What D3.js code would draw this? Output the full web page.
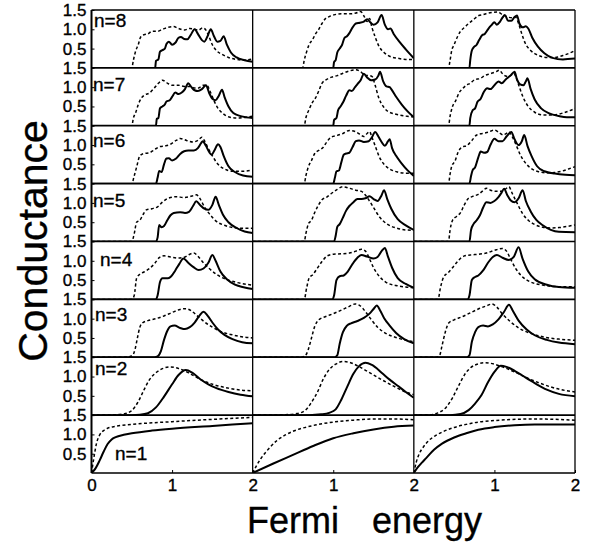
<!DOCTYPE html>
<html>
<head>
<meta charset="utf-8">
<script src="https://cdn.jsdelivr.net/npm/d3@7"></script>
<style>
  body { margin: 0; background: #fff; }
  svg { display: block; font-family: "Liberation Sans", Arial, sans-serif; }
</style>
</head>
<body>
<svg id="chart" width="593" height="546"></svg>
<script>
// Conductance vs Fermi energy, 8 rows (n=8 top .. n=1 bottom) x 3 columns.
// Each row array holds one [x, G] list per column.
const rowLabels = ['n=8', 'n=7', 'n=6', 'n=5', 'n=4', 'n=3', 'n=2', 'n=1'];
const yTicks = [0.5, 1.0, 1.5];
const xTicksFirst = [0, 1, 2];
const xTicksOther = [1, 2];

const n8Solid = [
  [[0,0],[0.79,0],[0.8,0.18],[0.83,0.22],[0.85,0.42],[0.88,0.46],[0.91,0.5],[0.93,0.62],[0.96,0.68],[1.0,0.6],[1.04,0.65],[1.08,0.78],[1.11,0.8],[1.15,0.75],[1.19,0.74],[1.23,0.85],[1.28,1.0],[1.32,0.88],[1.37,0.72],[1.4,0.68],[1.44,0.82],[1.48,1.0],[1.52,0.82],[1.56,0.68],[1.6,0.7],[1.64,0.82],[1.68,0.6],[1.73,0.4],[1.8,0.27],[1.9,0.2],[2,0.16]],
  [[0,0],[1.0,0],[1.01,0.15],[1.03,0.2],[1.05,0.4],[1.08,0.5],[1.11,0.6],[1.14,0.78],[1.17,0.82],[1.2,0.9],[1.24,1.05],[1.28,1.15],[1.33,1.17],[1.38,1.2],[1.42,1.26],[1.46,1.18],[1.5,1.12],[1.55,1.18],[1.6,1.37],[1.64,1.12],[1.68,1.0],[1.71,1.02],[1.75,0.88],[1.82,0.68],[1.9,0.48],[2,0.25]],
  [[0,0],[0.69,0],[0.7,0.2],[0.72,0.45],[0.75,0.55],[0.78,0.6],[0.81,0.72],[0.85,0.85],[0.88,0.88],[0.92,1.0],[0.96,1.1],[1.0,1.18],[1.03,1.12],[1.07,1.2],[1.1,1.3],[1.13,1.37],[1.17,1.22],[1.21,1.22],[1.25,1.32],[1.28,1.36],[1.31,1.15],[1.35,1.05],[1.39,1.08],[1.42,1.02],[1.47,0.78],[1.54,0.55],[1.62,0.38],[1.72,0.26],[1.85,0.22],[2,0.24]]
];
const n8Dashed = [
  [[0,0],[0.5,0],[0.52,0.2],[0.55,0.45],[0.58,0.6],[0.61,0.8],[0.65,0.86],[0.7,0.88],[0.75,0.95],[0.82,0.95],[0.88,1.0],[0.95,1.05],[1.02,1.07],[1.08,1.02],[1.15,0.98],[1.22,1.02],[1.28,1.0],[1.33,0.98],[1.38,1.04],[1.42,0.98],[1.46,0.8],[1.5,0.6],[1.55,0.45],[1.62,0.35],[1.7,0.27],[1.8,0.22],[1.9,0.2],[2,0.23]],
  [[0,0],[0.62,0],[0.64,0.2],[0.67,0.42],[0.7,0.6],[0.74,0.72],[0.78,0.88],[0.82,1.0],[0.86,1.15],[0.9,1.27],[0.95,1.33],[1.02,1.38],[1.1,1.4],[1.2,1.4],[1.28,1.42],[1.34,1.46],[1.38,1.35],[1.42,1.2],[1.45,1.28],[1.48,1.05],[1.52,0.8],[1.57,0.55],[1.63,0.4],[1.7,0.3],[1.8,0.25],[1.9,0.22],[2,0.22]],
  [[0,0],[0.43,0],[0.45,0.2],[0.47,0.45],[0.5,0.6],[0.54,0.8],[0.58,0.95],[0.63,1.05],[0.68,1.15],[0.74,1.25],[0.8,1.35],[0.86,1.38],[0.92,1.42],[0.98,1.44],[1.04,1.45],[1.1,1.38],[1.16,1.32],[1.22,1.3],[1.26,1.32],[1.3,1.15],[1.34,0.88],[1.38,0.65],[1.45,0.45],[1.55,0.32],[1.65,0.27],[1.75,0.27],[1.85,0.32],[1.93,0.38],[2,0.45]]
];

const n7Solid = [
  [[0,0],[0.8,0],[0.81,0.18],[0.83,0.2],[0.85,0.45],[0.88,0.5],[0.91,0.55],[0.93,0.63],[0.97,0.66],[1.0,0.75],[1.04,0.86],[1.08,0.82],[1.12,0.86],[1.16,0.95],[1.2,1.1],[1.24,1.0],[1.28,0.92],[1.32,0.9],[1.37,0.95],[1.42,1.05],[1.46,0.85],[1.5,0.7],[1.54,0.66],[1.58,0.78],[1.62,0.93],[1.65,0.75],[1.7,0.5],[1.76,0.33],[1.85,0.25],[2,0.2]],
  [[0,0],[1.0,0],[1.01,0.15],[1.04,0.2],[1.06,0.4],[1.09,0.5],[1.12,0.6],[1.16,0.78],[1.2,0.92],[1.23,0.9],[1.27,1.0],[1.3,1.08],[1.34,1.18],[1.38,1.35],[1.42,1.25],[1.47,1.18],[1.52,1.2],[1.56,1.3],[1.58,1.4],[1.62,1.15],[1.66,1.02],[1.7,1.0],[1.72,0.95],[1.78,0.75],[1.85,0.55],[1.92,0.38],[2,0.22]],
  [[0,0],[0.69,0],[0.7,0.2],[0.73,0.4],[0.76,0.45],[0.79,0.62],[0.83,0.7],[0.87,0.88],[0.91,0.97],[0.95,0.95],[1.0,1.05],[1.05,1.15],[1.09,1.1],[1.14,1.2],[1.2,1.3],[1.25,1.4],[1.28,1.2],[1.32,1.07],[1.36,1.05],[1.39,1.15],[1.41,1.23],[1.45,0.95],[1.5,0.68],[1.58,0.45],[1.68,0.32],[1.8,0.25],[1.9,0.22],[2,0.22]]
];
const n7Dashed = [
  [[0,0],[0.5,0],[0.52,0.2],[0.55,0.35],[0.58,0.55],[0.62,0.72],[0.66,0.8],[0.72,0.85],[0.78,0.98],[0.83,1.1],[0.88,1.18],[0.93,1.12],[1.0,1.05],[1.08,1.05],[1.15,1.02],[1.22,1.02],[1.28,0.98],[1.33,0.98],[1.38,1.05],[1.43,1.05],[1.47,0.9],[1.52,0.65],[1.57,0.45],[1.63,0.32],[1.72,0.22],[1.82,0.2],[1.92,0.22],[2,0.25]],
  [[0,0],[0.64,0],[0.66,0.2],[0.7,0.42],[0.74,0.6],[0.78,0.72],[0.82,0.9],[0.86,1.1],[0.92,1.2],[0.98,1.26],[1.05,1.3],[1.12,1.36],[1.2,1.42],[1.28,1.45],[1.34,1.4],[1.4,1.3],[1.44,1.3],[1.48,1.28],[1.52,1.05],[1.56,0.75],[1.62,0.5],[1.68,0.37],[1.78,0.3],[1.9,0.25],[2,0.23]],
  [[0,0],[0.43,0],[0.45,0.25],[0.48,0.5],[0.52,0.65],[0.56,0.85],[0.6,0.95],[0.65,1.05],[0.7,1.1],[0.76,1.2],[0.82,1.22],[0.88,1.3],[0.95,1.35],[1.02,1.4],[1.06,1.44],[1.1,1.35],[1.15,1.28],[1.2,1.3],[1.24,1.36],[1.27,1.25],[1.31,1.0],[1.36,0.72],[1.42,0.5],[1.5,0.35],[1.6,0.28],[1.72,0.28],[1.85,0.33],[2,0.45]]
];

const n6Solid = [
  [[0,0],[0.8,0],[0.82,0.15],[0.84,0.33],[0.87,0.3],[0.9,0.5],[0.93,0.65],[0.96,0.66],[1.0,0.6],[1.05,0.65],[1.1,0.77],[1.15,0.84],[1.2,0.86],[1.27,0.86],[1.32,0.92],[1.36,1.05],[1.38,1.1],[1.42,0.98],[1.46,0.82],[1.49,0.75],[1.53,0.88],[1.57,1.02],[1.6,0.95],[1.64,0.72],[1.7,0.45],[1.78,0.3],[1.88,0.21],[2,0.18]],
  [[0,0],[1.0,0],[1.02,0.15],[1.04,0.32],[1.07,0.34],[1.1,0.55],[1.13,0.75],[1.16,0.78],[1.2,0.8],[1.24,0.95],[1.28,1.1],[1.32,1.12],[1.38,1.08],[1.44,1.1],[1.48,1.2],[1.52,1.34],[1.56,1.22],[1.6,1.08],[1.64,0.98],[1.68,1.1],[1.7,1.15],[1.73,0.92],[1.78,0.72],[1.85,0.52],[1.92,0.35],[2,0.2]],
  [[0,0],[0.69,0],[0.71,0.2],[0.73,0.35],[0.76,0.42],[0.8,0.68],[0.83,0.83],[0.87,0.8],[0.91,0.82],[0.95,1.0],[1.0,1.16],[1.05,1.1],[1.1,1.1],[1.15,1.22],[1.21,1.34],[1.25,1.15],[1.3,1.0],[1.34,1.1],[1.37,1.26],[1.41,0.98],[1.46,0.72],[1.53,0.45],[1.62,0.32],[1.75,0.26],[1.88,0.23],[2,0.22]]
];
const n6Dashed = [
  [[0,0],[0.5,0],[0.53,0.2],[0.56,0.43],[0.6,0.72],[0.65,0.78],[0.72,0.8],[0.78,0.88],[0.85,0.96],[0.92,0.98],[0.98,1.02],[1.05,1.12],[1.1,1.17],[1.18,1.12],[1.26,1.08],[1.32,1.12],[1.37,1.2],[1.4,1.12],[1.44,0.95],[1.5,0.72],[1.57,0.5],[1.65,0.38],[1.75,0.32],[1.87,0.32],[2,0.35]],
  [[0,0],[0.64,0],[0.66,0.2],[0.69,0.43],[0.73,0.6],[0.77,0.78],[0.82,0.86],[0.87,0.93],[0.92,1.08],[0.97,1.2],[1.05,1.25],[1.12,1.3],[1.2,1.38],[1.27,1.35],[1.33,1.28],[1.38,1.22],[1.42,1.3],[1.45,1.35],[1.48,1.2],[1.52,0.98],[1.57,0.7],[1.63,0.5],[1.7,0.38],[1.8,0.3],[1.9,0.27],[2,0.27]],
  [[0,0],[0.43,0],[0.45,0.25],[0.47,0.45],[0.51,0.58],[0.55,0.82],[0.6,0.95],[0.66,0.99],[0.72,1.12],[0.78,1.26],[0.85,1.3],[0.92,1.33],[1.0,1.39],[1.06,1.32],[1.11,1.26],[1.15,1.3],[1.18,1.34],[1.22,1.22],[1.27,1.0],[1.32,0.75],[1.38,0.55],[1.45,0.4],[1.55,0.31],[1.65,0.28],[1.75,0.29],[1.85,0.33],[1.92,0.38],[2,0.44]]
];

const n5Solid = [
  [[0,0],[0.8,0],[0.82,0.1],[0.84,0.43],[0.87,0.37],[0.9,0.4],[0.94,0.55],[0.98,0.68],[1.02,0.74],[1.1,0.76],[1.16,0.74],[1.21,0.77],[1.26,0.92],[1.3,1.04],[1.35,0.94],[1.4,0.85],[1.45,0.82],[1.5,0.95],[1.54,1.16],[1.58,0.95],[1.63,0.7],[1.7,0.5],[1.8,0.35],[1.9,0.26],[2,0.22]],
  [[0,0],[1.01,0],[1.03,0.15],[1.05,0.38],[1.08,0.45],[1.12,0.62],[1.16,0.8],[1.2,0.92],[1.25,1.02],[1.3,1.1],[1.35,1.1],[1.4,1.12],[1.45,1.17],[1.5,1.1],[1.55,1.05],[1.6,1.2],[1.63,1.33],[1.67,1.1],[1.72,0.85],[1.8,0.58],[1.9,0.42],[2,0.3]],
  [[0,0],[0.69,0],[0.71,0.3],[0.74,0.45],[0.78,0.55],[0.82,0.68],[0.86,0.88],[0.9,1.02],[0.95,1.0],[1.0,1.05],[1.05,1.15],[1.09,1.27],[1.12,1.37],[1.16,1.2],[1.2,1.07],[1.25,1.02],[1.3,1.12],[1.35,1.33],[1.39,1.05],[1.45,0.78],[1.52,0.56],[1.6,0.42],[1.7,0.3],[1.8,0.25],[2,0.24]]
];
const n5Dashed = [
  [[0,0],[0.5,0],[0.53,0.2],[0.56,0.5],[0.6,0.55],[0.64,0.7],[0.68,0.82],[0.75,0.85],[0.82,0.9],[0.88,1.02],[0.95,1.12],[1.05,1.16],[1.15,1.14],[1.25,1.18],[1.3,1.21],[1.35,1.1],[1.4,0.9],[1.47,0.7],[1.55,0.52],[1.65,0.42],[1.8,0.35],[2,0.34]],
  [[0,0],[0.64,0],[0.66,0.2],[0.69,0.45],[0.73,0.55],[0.77,0.75],[0.81,0.92],[0.86,1.08],[0.92,1.15],[0.98,1.25],[1.05,1.35],[1.12,1.42],[1.2,1.38],[1.28,1.33],[1.35,1.3],[1.4,1.2],[1.45,1.05],[1.5,0.88],[1.58,0.62],[1.67,0.45],[1.78,0.35],[1.9,0.3],[2,0.29]],
  [[0,0],[0.43,0],[0.45,0.3],[0.48,0.55],[0.53,0.65],[0.58,0.75],[0.62,0.92],[0.67,1.1],[0.73,1.17],[0.8,1.22],[0.86,1.32],[0.9,1.38],[0.95,1.33],[1.02,1.3],[1.1,1.3],[1.15,1.38],[1.18,1.42],[1.22,1.25],[1.28,1.0],[1.35,0.72],[1.42,0.55],[1.5,0.44],[1.6,0.37],[1.7,0.35],[1.8,0.36],[1.9,0.39],[2,0.43]]
];

const n4Solid = [
  [[0,0],[0.8,0],[0.82,0.1],[0.85,0.45],[0.88,0.55],[0.95,0.55],[0.99,0.6],[1.04,0.75],[1.09,0.92],[1.14,1.06],[1.2,0.95],[1.27,0.83],[1.33,0.76],[1.39,0.8],[1.45,0.95],[1.5,1.15],[1.54,1.0],[1.6,0.72],[1.68,0.52],[1.78,0.38],[1.9,0.31],[2,0.27]],
  [[0,0],[0.99,0],[1.01,0.1],[1.04,0.5],[1.08,0.6],[1.13,0.62],[1.18,0.72],[1.24,0.92],[1.3,1.08],[1.35,1.15],[1.42,1.11],[1.5,1.06],[1.55,1.1],[1.6,1.25],[1.64,1.33],[1.68,1.1],[1.73,0.82],[1.8,0.55],[1.9,0.4],[2,0.3]],
  [[0,0],[0.67,0],[0.69,0.1],[0.72,0.5],[0.76,0.58],[0.8,0.62],[0.86,0.75],[0.92,0.95],[0.98,1.1],[1.03,1.15],[1.1,1.08],[1.18,1.02],[1.24,1.1],[1.3,1.35],[1.35,1.05],[1.42,0.72],[1.5,0.52],[1.65,0.38],[1.8,0.32],[2,0.3]]
];
const n4Dashed = [
  [[0,0],[0.5,0],[0.53,0.1],[0.56,0.55],[0.6,0.65],[0.66,0.72],[0.72,0.8],[0.78,0.92],[0.84,1.08],[0.9,1.13],[0.98,1.1],[1.08,1.07],[1.16,1.1],[1.22,1.17],[1.27,1.2],[1.32,1.12],[1.38,0.97],[1.45,0.82],[1.55,0.65],[1.67,0.52],[1.8,0.44],[2,0.37]],
  [[0,0],[0.64,0],[0.67,0.3],[0.7,0.55],[0.75,0.65],[0.8,0.8],[0.86,0.98],[0.92,1.12],[1.0,1.17],[1.1,1.18],[1.2,1.2],[1.28,1.25],[1.35,1.3],[1.4,1.25],[1.45,1.05],[1.5,0.82],[1.57,0.6],[1.65,0.45],[1.78,0.36],[1.9,0.32],[2,0.3]],
  [[0,0],[0.3,0],[0.33,0.3],[0.37,0.58],[0.42,0.68],[0.48,0.82],[0.55,1.0],[0.62,1.12],[0.7,1.15],[0.8,1.17],[0.9,1.2],[1.0,1.27],[1.1,1.32],[1.15,1.25],[1.2,1.05],[1.27,0.78],[1.35,0.58],[1.45,0.45],[1.6,0.37],[1.8,0.33],[2,0.33]]
];

const n3Solid = [
  [[0,0],[0.78,0],[0.82,0.02],[0.86,0.15],[0.9,0.45],[0.94,0.68],[0.98,0.8],[1.03,0.82],[1.1,0.76],[1.16,0.73],[1.22,0.78],[1.28,0.9],[1.34,1.08],[1.39,1.18],[1.44,1.08],[1.5,0.9],[1.57,0.72],[1.65,0.58],[1.75,0.47],[1.87,0.39],[2,0.36]],
  [[0,0],[1.02,0],[1.05,0.05],[1.08,0.35],[1.12,0.65],[1.17,0.82],[1.22,0.88],[1.3,0.94],[1.38,1.02],[1.45,1.13],[1.5,1.25],[1.54,1.34],[1.58,1.22],[1.63,1.02],[1.7,0.82],[1.78,0.63],[1.88,0.47],[2,0.36]],
  [[0,0],[0.66,0],[0.69,0.05],[0.72,0.4],[0.76,0.65],[0.8,0.78],[0.86,0.82],[0.92,0.8],[0.98,0.85],[1.05,0.98],[1.12,1.18],[1.18,1.36],[1.23,1.2],[1.3,0.95],[1.4,0.72],[1.5,0.57],[1.65,0.45],[1.8,0.38],[2,0.34]]
];
const n3Dashed = [
  [[0,0],[0.4,0],[0.5,0.03],[0.54,0.2],[0.57,0.5],[0.6,0.78],[0.64,0.9],[0.7,0.95],[0.8,1.0],[0.9,1.07],[1.0,1.16],[1.1,1.24],[1.17,1.26],[1.24,1.2],[1.32,1.06],[1.4,0.92],[1.5,0.78],[1.6,0.67],[1.75,0.58],[1.9,0.52],[2,0.5]],
  [[0,0],[0.6,0],[0.65,0.03],[0.69,0.2],[0.73,0.5],[0.77,0.8],[0.82,0.97],[0.9,1.05],[1.0,1.13],[1.1,1.22],[1.2,1.32],[1.27,1.38],[1.33,1.34],[1.4,1.18],[1.47,0.98],[1.55,0.78],[1.65,0.62],[1.8,0.5],[2,0.4]],
  [[0,0],[0.28,0],[0.32,0.05],[0.35,0.3],[0.39,0.65],[0.43,0.88],[0.5,0.97],[0.6,1.05],[0.7,1.15],[0.8,1.25],[0.9,1.33],[0.97,1.38],[1.03,1.3],[1.1,1.12],[1.2,0.92],[1.3,0.76],[1.45,0.62],[1.6,0.53],[1.8,0.47],[2,0.44]]
];

const n2Solid = [
  [[0,0],[0.5,0],[0.6,0.01],[0.7,0.05],[0.8,0.2],[0.9,0.48],[1,0.8],[1.08,1.04],[1.17,1.17],[1.25,1.1],[1.35,0.93],[1.45,0.8],[1.55,0.7],[1.7,0.6],[1.85,0.53],[2,0.49]],
  [[0,0],[0.7,0],[0.85,0.02],[0.95,0.06],[1.03,0.15],[1.1,0.4],[1.17,0.72],[1.25,1.07],[1.32,1.27],[1.4,1.36],[1.48,1.3],[1.6,1.1],[1.7,0.92],[1.8,0.76],[1.9,0.6],[2,0.45]],
  [[0,0],[0.45,0],[0.58,0.03],[0.68,0.13],[0.76,0.3],[0.84,0.52],[0.92,0.85],[1,1.12],[1.08,1.28],[1.15,1.25],[1.25,1.15],[1.35,1.02],[1.5,0.83],[1.65,0.66],[1.8,0.55],[2,0.49]]
];
const n2Dashed = [
  [[0,0],[0.3,0.01],[0.4,0.03],[0.5,0.12],[0.58,0.35],[0.65,0.65],[0.72,0.92],[0.8,1.1],[0.9,1.22],[0.98,1.25],[1.08,1.21],[1.2,1.1],[1.35,0.93],[1.5,0.8],[1.7,0.7],[1.85,0.65],[2,0.63]],
  [[0,0],[0.4,0.01],[0.55,0.04],[0.65,0.12],[0.72,0.3],[0.8,0.58],[0.88,0.95],[0.95,1.18],[1.03,1.32],[1.12,1.39],[1.2,1.37],[1.3,1.28],[1.45,1.1],[1.6,0.92],[1.75,0.75],[1.9,0.6],[2,0.53]],
  [[0,0],[0.2,0.01],[0.3,0.06],[0.4,0.2],[0.48,0.45],[0.56,0.78],[0.63,1.05],[0.7,1.22],[0.8,1.33],[0.88,1.36],[1,1.32],[1.1,1.25],[1.25,1.12],[1.4,0.97],[1.55,0.84],[1.7,0.73],[1.85,0.65],[2,0.6]]
];

const n1Solid = [
  [[0,0],[0.05,0.12],[0.1,0.32],[0.15,0.55],[0.2,0.75],[0.25,0.87],[0.3,0.93],[0.4,0.99],[0.5,1.03],[0.75,1.1],[1,1.15],[1.5,1.22],[2,1.29]],
  [[0,0],[0.25,0.24],[0.5,0.47],[0.75,0.7],[1,0.9],[1.25,1.03],[1.5,1.13],[1.75,1.2],[2,1.23]],
  [[0,0],[0.05,0.15],[0.1,0.27],[0.15,0.38],[0.25,0.6],[0.35,0.76],[0.5,0.92],[0.65,1.03],[0.8,1.12],[1,1.19],[1.25,1.24],[1.5,1.26],[2,1.26]]
];
const n1Dashed = [
  [[0,0],[0.03,0.4],[0.06,0.75],[0.1,0.98],[0.15,1.1],[0.2,1.16],[0.3,1.21],[0.5,1.26],[1,1.33],[1.5,1.39],[2,1.44]],
  [[0,0],[0.05,0.2],[0.1,0.37],[0.2,0.63],[0.3,0.84],[0.4,0.98],[0.5,1.08],[0.75,1.23],[1,1.32],[1.25,1.37],[1.5,1.4],[1.75,1.4],[2,1.38]],
  [[0,0],[0.03,0.28],[0.07,0.51],[0.12,0.68],[0.19,0.85],[0.27,0.97],[0.36,1.07],[0.5,1.18],[0.65,1.26],[0.8,1.32],[1,1.36],[1.5,1.4],[2,1.37]]
];

const solidRows = [n8Solid, n7Solid, n6Solid, n5Solid, n4Solid, n3Solid, n2Solid, n1Solid];
const dashedRows = [n8Dashed, n7Dashed, n6Dashed, n5Dashed, n4Dashed, n3Dashed, n2Dashed, n1Dashed];

// ---- layout ----
const PLOT = { left: 91.5, right: 575, top: 10, bottom: 473 };
const NCOL = 3;
const NROW = rowLabels.length;
const colW = (PLOT.right - PLOT.left) / NCOL;
const rowH = (PLOT.bottom - PLOT.top) / NROW;
// where each "n=" label sits inside its row: [x, baseline offset from row top]
const LABEL_POS = [[94, 17], [93, 23], [93, 21], [93, 23], [100, 24], [95, 22], [95, 18], [115, 45]];
const FONT = '"Liberation Sans", Arial, sans-serif';

const svg = d3.select('#chart');

const xScales = d3.range(NCOL).map((c) =>
  d3.scaleLinear().domain([0, 2]).range([PLOT.left + c * colW, PLOT.left + (c + 1) * colW]));
const yScales = d3.range(NROW).map((r) =>
  d3.scaleLinear().domain([0, 1.5]).range([PLOT.top + (r + 1) * rowH, PLOT.top + r * rowH]));

// clip paths, one per panel
const defs = svg.append('defs');
for (let r = 0; r < NROW; r++) {
  for (let c = 0; c < NCOL; c++) {
    defs.append('clipPath').attr('id', `clip-${r}-${c}`)
      .append('rect')
      .attr('x', xScales[c].range()[0]).attr('y', yScales[r].range()[1])
      .attr('width', colW).attr('height', rowH);
  }
}

// curves
const curves = svg.append('g').attr('class', 'curves');
for (let r = 0; r < NROW; r++) {
  for (let c = 0; c < NCOL; c++) {
    const line = d3.line()
      .x((d) => xScales[c](d[0]))
      .y((d) => yScales[r](d[1]))
      .curve(d3.curveMonotoneX);
    const g = curves.append('g').attr('clip-path', `url(#clip-${r}-${c})`);
    g.append('path')
      .attr('d', line(dashedRows[r][c]))
      .attr('fill', 'none').attr('stroke', '#000')
      .attr('stroke-width', 1.5).attr('stroke-dasharray', '3,2.4');
    g.append('path')
      .attr('d', line(solidRows[r][c]))
      .attr('fill', 'none').attr('stroke', '#000')
      .attr('stroke-width', 2).attr('stroke-linejoin', 'round');
  }
}

// panel frames
const frame = svg.append('g').attr('class', 'frame').attr('stroke', '#000').attr('fill', 'none');
for (let r = 0; r <= NROW; r++) {
  const y = PLOT.top + r * rowH;
  frame.append('line').attr('x1', PLOT.left).attr('x2', PLOT.right)
    .attr('y1', y).attr('y2', y).attr('stroke-width', 1.6);
}
for (let c = 0; c <= NCOL; c++) {
  const x = PLOT.left + c * colW;
  frame.append('line').attr('x1', x).attr('x2', x)
    .attr('y1', PLOT.top).attr('y2', PLOT.bottom)
    .attr('stroke-width', c === 0 ? 2 : 1.3);
}

// slightly heavy text, like the scanned original
function styleText(sel, size) {
  sel.attr('font-size', size).attr('font-family', FONT)
    .attr('fill', '#000').attr('stroke', '#000').attr('stroke-width', 0.35);
}

// y axes (one per row, on the left)
yScales.forEach((y) => {
  const ax = svg.append('g')
    .attr('transform', `translate(${PLOT.left},0)`)
    .call(d3.axisLeft(y).tickValues(yTicks).tickFormat(d3.format('.1f')).tickSize(-3).tickPadding(5));
  ax.select('.domain').remove();
  styleText(ax.selectAll('text'), 17);
});

// x axes (one per column, at the bottom)
xScales.forEach((x, c) => {
  const ax = svg.append('g')
    .attr('transform', `translate(0,${PLOT.bottom})`)
    .call(d3.axisBottom(x).tickValues(c === 0 ? xTicksFirst : xTicksOther).tickFormat(d3.format('d')).tickSize(-3).tickPadding(6));
  ax.select('.domain').remove();
  styleText(ax.selectAll('text'), 17);
});

// row labels
rowLabels.forEach((t, r) => {
  styleText(svg.append('text')
    .attr('x', LABEL_POS[r][0])
    .attr('y', PLOT.top + r * rowH + LABEL_POS[r][1])
    .text(t), 19);
});

// axis titles
styleText(svg.append('text')
  .attr('transform', 'translate(47,241) rotate(-90)')
  .attr('text-anchor', 'middle')
  .text('Conductance'), 41);
styleText(svg.append('text').attr('x', 247).attr('y', 533).text('Fermi'), 36);
styleText(svg.append('text').attr('x', 372).attr('y', 533).text('energy'), 36);
</script>
</body>
</html>
